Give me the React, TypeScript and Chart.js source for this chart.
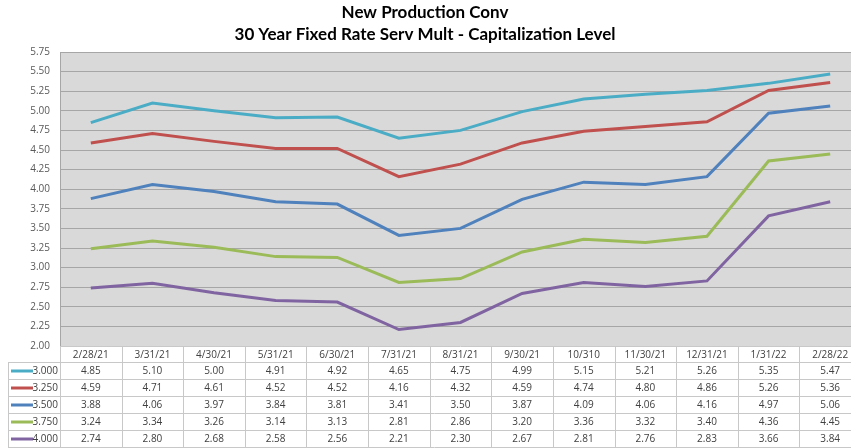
import React, { useEffect, useRef } from "react";
import { Chart, registerables } from "chart.js";

Chart.register(...registerables);

const titleLines = ["New Production Conv", "30 Year Fixed Rate Serv Mult - Capitalization Level"];
const categories = ["2/28/21", "3/31/21", "4/30/21", "5/31/21", "6/30/21", "7/31/21", "8/31/21", "9/30/21", "10/310", "11/30/21", "12/31/21", "1/31/22", "2/28/22"];
const seriesNames = ["3.000", "3.250", "3.500", "3.750", "4.000"];
const s3000 = [4.85, 5.10, 5.00, 4.91, 4.92, 4.65, 4.75, 4.99, 5.15, 5.21, 5.26, 5.35, 5.47];
const s3250 = [4.59, 4.71, 4.61, 4.52, 4.52, 4.16, 4.32, 4.59, 4.74, 4.80, 4.86, 5.26, 5.36];
const s3500 = [3.88, 4.06, 3.97, 3.84, 3.81, 3.41, 3.50, 3.87, 4.09, 4.06, 4.16, 4.97, 5.06];
const s3750 = [3.24, 3.34, 3.26, 3.14, 3.13, 2.81, 2.86, 3.20, 3.36, 3.32, 3.40, 4.36, 4.45];
const s4000 = [2.74, 2.80, 2.68, 2.58, 2.56, 2.21, 2.30, 2.67, 2.81, 2.76, 2.83, 3.66, 3.84];
const seriesValues = [s3000, s3250, s3500, s3750, s4000];
const seriesColors = ["#4BACC6", "#C0504D", "#4F81BD", "#9BBB59", "#8064A2"];
const yMin = 2.0;
const yMax = 5.75;
const yStep = 0.25;

const FONT = "'Open Sans', 'Noto Sans', sans-serif";

const plotBgPlugin = {
  id: "plotBg",
  beforeDraw(chart: any) {
    const { ctx, chartArea } = chart;
    ctx.save();
    ctx.fillStyle = "#d9d9d9";
    ctx.fillRect(chartArea.left, chartArea.top, chartArea.right - chartArea.left, chartArea.bottom - chartArea.top);
    ctx.restore();
  },
};

const titlePlugin = {
  id: "twoLineTitle",
  afterDraw(chart: any) {
    const { ctx } = chart;
    ctx.save();
    ctx.fillStyle = "#000000";
    ctx.textAlign = "center";
    ctx.textBaseline = "middle";
    ctx.font = "bold 17px Lato, sans-serif";
    ctx.fillText(titleLines[0], 425, 13);
    ctx.fillText(titleLines[1], 425, 35);
    ctx.restore();
  },
};

const tablePlugin = {
  id: "dataTable",
  afterDraw(chart: any) {
    const { ctx, chartArea, scales } = chart;
    const x = scales.x;
    const n = categories.length;
    const colW = n > 1 ? x.getPixelForValue(1) - x.getPixelForValue(0) : 60;
    const left = chartArea.left;
    const right = chartArea.right;
    const headTop = chartArea.bottom;
    const headBottom = headTop + 16;
    const rowH = 17;
    const legendLeft = 8;
    const tableBottom = headBottom + rowH * seriesNames.length;

    ctx.save();
    ctx.fillStyle = "#ffffff";
    ctx.fillRect(legendLeft, headBottom, right - legendLeft, tableBottom - headBottom);
    ctx.fillRect(left, headTop, right - left, headBottom - headTop);

    ctx.strokeStyle = "#c8c8c8";
    ctx.lineWidth = 1;
    ctx.beginPath();
    ctx.moveTo(left, headTop + 0.5);
    ctx.lineTo(right, headTop + 0.5);
    for (let r = 0; r <= seriesNames.length; r++) {
      const yy = Math.round(headBottom + r * rowH) + 0.5;
      ctx.moveTo(legendLeft, yy);
      ctx.lineTo(right, yy);
    }
    ctx.moveTo(legendLeft + 0.5, headBottom);
    ctx.lineTo(legendLeft + 0.5, tableBottom);
    for (let i = 0; i <= n; i++) {
      const xx = Math.round(x.getPixelForValue(0) - colW / 2 + i * colW) + 0.5;
      ctx.moveTo(xx, headTop);
      ctx.lineTo(xx, tableBottom);
    }
    ctx.stroke();

    ctx.font = `10px ${FONT}`;
    ctx.textBaseline = "middle";
    ctx.fillStyle = "#404040";
    ctx.textAlign = "center";
    categories.forEach((c, i) => {
      ctx.fillText(c, x.getPixelForValue(i), (headTop + headBottom) / 2 + 1);
    });
    seriesValues.forEach((vals, r) => {
      const yy = headBottom + r * rowH + rowH / 2 + 0.5;
      vals.forEach((v, i) => {
        ctx.fillText(v.toFixed(2), x.getPixelForValue(i), yy);
      });
    });
    seriesNames.forEach((name, r) => {
      const yy = headBottom + r * rowH + rowH / 2 + 0.5;
      ctx.strokeStyle = seriesColors[r];
      ctx.lineWidth = 3;
      ctx.beginPath();
      ctx.moveTo(11, yy);
      ctx.lineTo(33, yy);
      ctx.stroke();
      ctx.fillStyle = "#404040";
      ctx.textAlign = "right";
      ctx.fillText(name, left - 2, yy);
    });
    ctx.restore();
  },
};

export default function App() {
  const canvasRef = useRef<HTMLCanvasElement | null>(null);

  useEffect(() => {
    document.body.style.margin = "0";
    document.body.style.overflow = "hidden";
    document.body.style.background = "#ffffff";
    const canvas = canvasRef.current;
    if (!canvas) return;
    const chart = new Chart(canvas, {
      type: "line",
      data: {
        labels: categories,
        datasets: seriesNames.map((name, i) => ({
          label: name,
          data: seriesValues[i],
          borderColor: seriesColors[i],
          backgroundColor: seriesColors[i],
          borderWidth: 3,
          pointRadius: 0,
          tension: 0,
          fill: false,
        })),
      },
      options: {
        animation: false,
        responsive: false,
        maintainAspectRatio: false,
        layout: { padding: { left: 0, top: 52, right: 1, bottom: 102 } },
        plugins: {
          legend: { display: false },
          title: { display: false },
          tooltip: { enabled: false },
        },
        scales: {
          x: {
            type: "category",
            offset: true,
            display: false,
            grid: { display: false },
          },
          y: {
            min: yMin,
            max: yMax,
            afterFit(scale: any) {
              scale.width = 60;
            },
            border: { display: true, color: "#a6a6a6" },
            grid: { color: "#a6a6a6", lineWidth: 1, drawTicks: false },
            ticks: {
              stepSize: yStep,
              padding: 10,
              color: "#595959",
              font: { size: 10, family: FONT },
              callback: (v: any) => Number(v).toFixed(2),
            },
          },
        },
      },
      plugins: [plotBgPlugin, tablePlugin, titlePlugin],
    });
    return () => chart.destroy();
  }, []);

  return (
    <div style={{ position: "fixed", left: 0, top: 0, width: 862, height: 448, background: "#fff" }}>
      <canvas ref={canvasRef} width={862} height={448} style={{ width: 862, height: 448 }} />
    </div>
  );
}
